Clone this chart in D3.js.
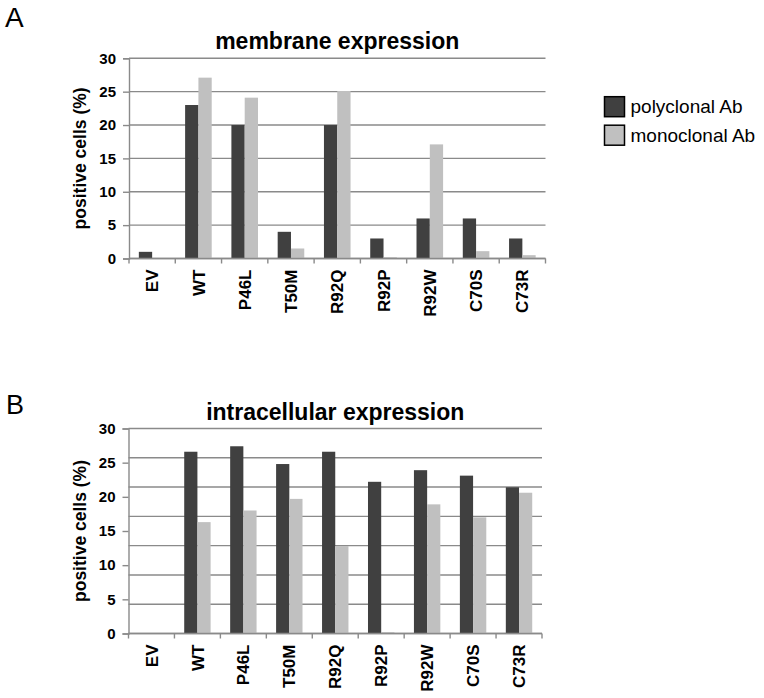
<!DOCTYPE html>
<html>
<head>
<meta charset="utf-8">
<script src="https://cdn.jsdelivr.net/npm/d3@7"></script>
<style>
  body { margin: 0; background: #fff; }
  text { font-family: "Liberation Sans", Arial, sans-serif; fill: #000; }
</style>
</head>
<body>
<div id="chart"></div>
<script>
// data
const categories = ["EV", "WT", "P46L", "T50M", "R92Q", "R92P", "R92W", "C70S", "C73R"];
const seriesNames = ["polyclonal Ab", "monoclonal Ab"];
const membranePoly = [1, 23, 20, 4, 20, 3, 6, 6, 3];
const membraneMono = [0, 27.1, 24.1, 1.5, 25.1, 0.2, 17.1, 1.1, 0.5];
const intraPoly = [0, 26.6, 27.4, 24.8, 26.6, 22.2, 23.9, 23.1, 21.4];
const intraMono = [0, 16.3, 18.0, 19.7, 12.8, 0.2, 18.9, 17.0, 20.6];
const yTicks = [0, 5, 10, 15, 20, 25, 30];

const width = 764, height = 698;
const colors = ["#404040", "#c0c0c0"];
const gridColor = "#8a8a8a";

const svg = d3.select("#chart")
  .append("svg")
  .attr("width", width)
  .attr("height", height)

// panel letters
svg.append("text").attr("x", 5).attr("y", 27).attr("font-size", 28).text("A")
svg.append("text").attr("x", 6).attr("y", 414).attr("font-size", 27).text("B")

function drawPanel(opts) {
  const g = svg.append("g")
  const rows = categories.map((c, i) => ({ cat: c, values: [opts.poly[i], opts.mono[i]] }))

  const x0 = d3.scaleBand()
    .domain(categories)
    .range([opts.left, opts.right])
    .padding(0)

  const x1 = d3.scaleBand()
    .domain(seriesNames)
    .range([0, x0.bandwidth()])
    .paddingInner(0)
    .paddingOuter(0.74)

  const y = d3.scaleLinear()
    .domain([0, 30])
    .range([opts.bottom, opts.top])

  // horizontal gridlines
  g.append("g")
    .selectAll("line")
    .data(opts.grid)
    .join("line")
    .attr("x1", opts.left)
    .attr("x2", opts.right)
    .attr("y1", d => y(d))
    .attr("y2", d => y(d))
    .attr("stroke", gridColor)
    .attr("stroke-width", 1.4)

  // bars
  g.append("g")
    .selectAll("g")
    .data(rows)
    .join("g")
    .attr("transform", d => `translate(${x0(d.cat)},0)`)
    .selectAll("rect")
    .data(d => d.values.map((v, i) => ({ key: seriesNames[i], v: v, i: i })))
    .join("rect")
    .attr("x", d => x1(d.key))
    .attr("width", x1.bandwidth())
    .attr("y", d => y(d.v))
    .attr("height", d => y(0) - y(d.v))
    .attr("fill", d => colors[d.i])

  // y axis
  const yAxis = d3.axisLeft(y).tickValues(yTicks).tickSize(6).tickPadding(7)
  const yAxisGroup = g.append("g")
    .attr("transform", `translate(${opts.left},0)`)
    .call(yAxis)
  yAxisGroup.select(".domain").attr("stroke", gridColor).attr("stroke-width", 1.4)
  yAxisGroup.selectAll(".tick line").attr("stroke", gridColor).attr("stroke-width", 1.4)
  yAxisGroup.selectAll(".tick text")
    .attr("font-size", 15)
    .attr("font-weight", "bold")
    .attr("font-family", "Liberation Sans, Arial, sans-serif")
    .attr("fill", "#000")

  // x axis line with ticks on category boundaries
  const xAxisGroup = g.append("g")
  xAxisGroup.append("line")
    .attr("x1", opts.left)
    .attr("x2", opts.right)
    .attr("y1", y(0))
    .attr("y2", y(0))
    .attr("stroke", gridColor)
    .attr("stroke-width", 1.4)
  const bounds = categories.map(c => x0(c)).concat([opts.right])
  xAxisGroup.selectAll(".bound")
    .data(bounds)
    .join("line")
    .attr("class", "bound")
    .attr("x1", d => d)
    .attr("x2", d => d)
    .attr("y1", y(0))
    .attr("y2", y(0) + 5)
    .attr("stroke", gridColor)
    .attr("stroke-width", 1.4)

  xAxisGroup.selectAll(".xlabel")
    .data(categories)
    .join("text")
    .attr("class", "xlabel")
    .attr("transform", d => `translate(${x0(d) + x0.bandwidth() / 2}, ${y(0) + 11})rotate(-90)`)
    .attr("dy", "0.36em")
    .attr("text-anchor", "end")
    .attr("font-size", 17)
    .attr("font-weight", "bold")
    .text(d => d)

  // title
  g.append("text")
    .attr("x", (opts.left + opts.right) / 2)
    .attr("y", opts.titleY)
    .attr("text-anchor", "middle")
    .attr("font-size", 23)
    .attr("font-weight", "bold")
    .text(opts.title)

  // y axis title
  g.append("text")
    .attr("transform", `translate(86, ${(opts.top + opts.bottom) / 2})rotate(-90)`)
    .attr("text-anchor", "middle")
    .attr("font-size", 17.5)
    .attr("font-weight", "bold")
    .text("positive cells (%)")
}

drawPanel({
  title: "membrane expression",
  poly: membranePoly,
  mono: membraneMono,
  left: 129, right: 545.5, top: 58.3, bottom: 258.5,
  titleY: 49.3,
  grid: yTicks
})

// the lower panel has eight evenly spaced gridlines over the 0-30 range
drawPanel({
  title: "intracellular expression",
  poly: intraPoly,
  mono: intraMono,
  left: 128.5, right: 542, top: 428.5, bottom: 633.5,
  titleY: 420,
  grid: d3.range(8).map(i => i * 30 / 7)
})

// legend
const legend = svg.append("g")
  .selectAll("g")
  .data(seriesNames)
  .join("g")
  .attr("transform", (d, i) => `translate(604.5, ${96.7 + i * 28.5})`)

legend.append("rect")
  .attr("width", 20)
  .attr("height", 20)
  .attr("fill", (d, i) => colors[i])
  .attr("stroke", "#000")
  .attr("stroke-width", 1.5)

legend.append("text")
  .attr("x", 26)
  .attr("y", 16.5)
  .attr("font-size", 19)
  .text(d => d)
</script>
</body>
</html>
